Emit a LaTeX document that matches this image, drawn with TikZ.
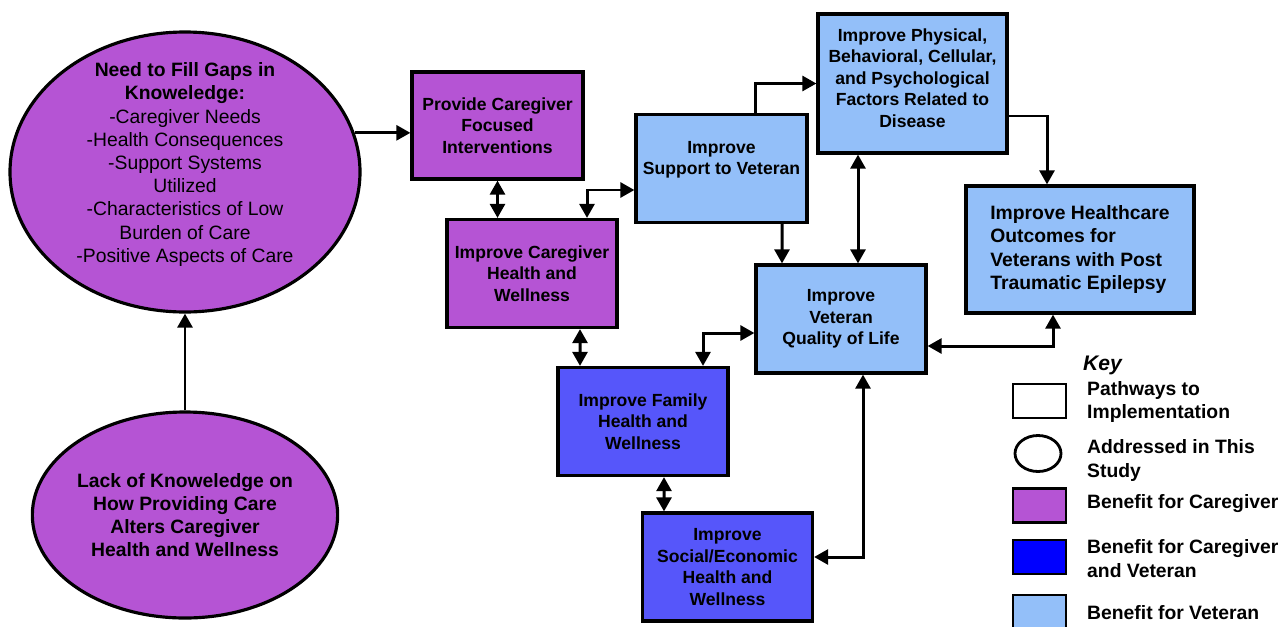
\documentclass[tikz,border=0pt]{standalone}
\usepackage{fontspec}
\setmainfont{Liberation Sans}
\usetikzlibrary{positioning,arrows.meta,calc,shapes.geometric}

\definecolor{cgpurple}{RGB}{181,84,212}
\definecolor{bothblue}{RGB}{86,86,250}
\definecolor{keyblue}{RGB}{0,0,255}
\definecolor{vetblue}{RGB}{147,191,249}

\tikzset{
  box/.style={draw, line width=1.8pt, minimum width=3.4cm, minimum height=2.16cm,
    align=center, inner sep=2pt, font=\fontsize{10}{12.2}\selectfont\bfseries},
  bubble/.style={draw, ellipse, line width=1.8pt, fill=cgpurple, inner sep=0pt},
  arr/.style={line width=1.7pt, -{Triangle[length=8pt,width=8.5pt]}},
  darr/.style={line width=1.7pt,
    {Triangle[length=8pt,width=8.5pt]}-{Triangle[length=8pt,width=8.5pt]}},
  keybox/.style={draw, line width=1.6pt, minimum width=1.06cm, minimum height=0.68cm, inner sep=0pt},
  keytext/.style={anchor=west, align=left, font=\fontsize{11}{13.6}\selectfont\bfseries},
}

\begin{document}
\begin{tikzpicture}
  \useasboundingbox (0,0) rectangle (25.66,-12.52);
  \fill[white] (0,0) rectangle (25.66,-12.52);

  \node[bubble, minimum width=7.0cm, minimum height=5.6cm] (need) at (3.70,-3.44) {};
  \node[align=center, font=\fontsize{11}{13.2}\selectfont] (needtxt) at (3.70,-3.29)
    {\textbf{Need to Fill Gaps in}\\\textbf{Knoweledge:}\\-Caregiver Needs\\
     -Health Consequences\\-Support Systems\\Utilized\\
     -Characteristics of Low\\Burden of Care\\-Positive Aspects of Care};
  \node[bubble, minimum width=6.1cm, minimum height=4.12cm, align=center,
    font=\fontsize{11}{13.2}\selectfont\bfseries] (lack) at (3.70,-10.30)
    {Lack of Knoweledge on\\How Providing Care\\Alters Caregiver\\Health and Wellness};

  \node[box, fill=cgpurple, minimum width=3.42cm, minimum height=2.14cm] (prov) at (9.95,-2.51)
    {Provide Caregiver\\Focused\\Interventions};
  \node[box, fill=cgpurple] (cghw) at (10.64,-5.47) {Improve Caregiver\\Health and\\Wellness};
  \node[box, fill=vetblue, minimum width=3.42cm] (supp) at (14.43,-3.37)
    {Improve\\Support to Veteran\\\mbox{}};
  \node[box, fill=vetblue, minimum width=3.78cm, minimum height=2.78cm] (phys) at (18.25,-1.67)
    {Improve Physical,\\Behavioral, Cellular,\\and Psychological\\Factors Related to\\Disease\\[-6pt]\mbox{}};
  \node[box, fill=vetblue, minimum width=4.56cm, minimum height=2.54cm, align=left,
    font=\fontsize{11}{13.4}\selectfont\bfseries] (hlth) at (21.60,-4.99)
    {Improve Healthcare\\Outcomes for\\Veterans with Post\\Traumatic Epilepsy};
  \node[box, fill=vetblue] (qol) at (16.82,-6.38) {Improve\\Veteran\\Quality of Life};
  \node[box, fill=bothblue] (fam) at (12.86,-8.43) {Improve Family\\Health and\\Wellness};
  \node[box, fill=bothblue] (soc) at (14.55,-11.34)
    {Improve\\Social/Economic\\Health and\\Wellness};

  \draw[arr] (lack.north) -- (need.south);
  \draw[arr] (need.13) -- (need.13 -| prov.west);
  \draw[darr] (prov.south) -- (prov.south |- cghw.north);
  \draw[darr] ($(cghw.north)+(1.10,0)$) |- ($(supp.west)+(0,-0.43)$);
  \draw[arr] ($(supp.north)+(0.67,0)$) |- (phys.west);
  \draw[arr] ($(supp.south)+(1.21,0)$) -- ($(qol.north)+(-1.18,0)$);
  \draw[darr] ($(phys.south)+(-1.09,0)$) -- ($(qol.north)+(0.34,0)$);
  \draw[arr] ($(phys.east)+(0,-0.65)$) -| ($(hlth.north)+(-0.66,0)$);
  \draw[darr] ($(qol.east)+(0,-0.54)$) -| ($(hlth.south)+(-0.54,0)$);
  \draw[darr] ($(cghw.south)+(0.96,0)$) -- ($(fam.north)+(-1.26,0)$);
  \draw[darr] ($(qol.west)+(0,-0.28)$) -| ($(fam.north)+(1.20,0)$);
  \draw[darr] ($(fam.south)+(0.42,0)$) -- ($(soc.north)+(-1.27,0)$);
  \draw[darr] ($(soc.east)+(0,0.20)$) -| ($(qol.south)+(0.44,0)$);

  \node[anchor=west, font=\fontsize{12}{14}\selectfont\bfseries\itshape] (key) at (21.54,-7.30) {Key};
  \node[keybox] (k1) at (20.79,-8.02) {};
  \node[keybox, ellipse, minimum width=0.92cm, minimum height=0.72cm] (k2) at (20.76,-9.07) {};
  \node[keybox, fill=cgpurple] (k3) at (20.79,-10.11) {};
  \node[keybox, fill=keyblue] (k4) at (20.79,-11.14) {};
  \node[keybox, fill=vetblue] (k5) at (20.79,-12.24) {};
  \node[keytext] (t1) at (21.62,-8.04) {Pathways to\\Implementation};
  \node[keytext] (t2) at (21.62,-9.21) {Addressed in This\\Study};
  \node[keytext] (t3) at (21.62,-10.07) {Benefit for Caregiver};
  \node[keytext] (t4) at (21.62,-11.17) {Benefit for Caregiver\\and Veteran};
  \node[keytext] (t5) at (21.62,-12.26) {Benefit for Veteran};
\end{tikzpicture}
\end{document}
